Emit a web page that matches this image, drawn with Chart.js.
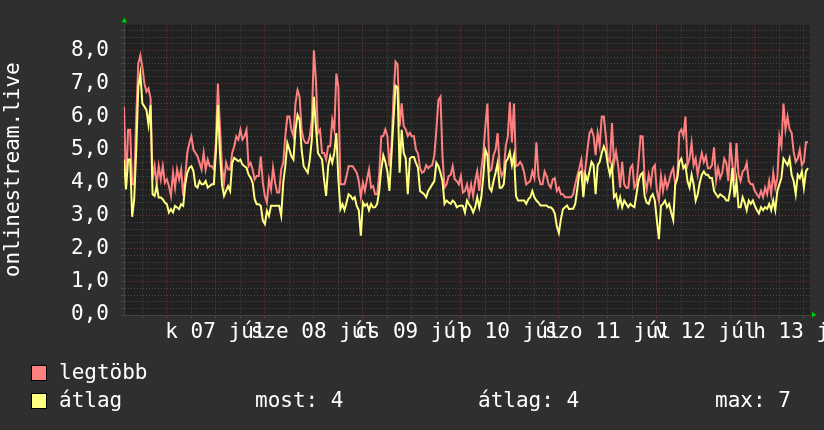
<!DOCTYPE html>
<html>
<head>
<meta charset="utf-8">
<script src="https://cdn.jsdelivr.net/npm/chart.js@4.4.1/dist/chart.umd.min.js"></script>
<style>
  html, body { margin: 0; padding: 0; background: #2f2f2f; }
  #wrap { width: 824px; height: 430px; }
</style>
</head>
<body>
<div id="wrap"><canvas id="rrd" width="824" height="430"></canvas></div>
<script>
// half-hourly samples, first one at Jul 6 13:30 (hour 0 of the graph)
const stepHours = 0.5;
const spanHours = 168;
const firstMidnight = 10.5;

const dayLabels = ['k 07 júl', 'sze 08 júl', 'cs 09 júl', 'p 10 júl', 'szo 11 júl', 'v 12 júl', 'h 13 júl'];
const yLabelValues = [0, 1, 2, 3, 4, 5, 6, 7, 8];

const legtobb = [
  6.3, 3.9, 5.6, 5.6, 3.95, 3.95, 6.0, 7.6, 7.85, 7.5,
  7.0, 6.75, 6.85, 6.55, 4.1, 4.5, 3.95, 4.5, 4.1, 4.5,
  4.0, 4.1, 3.9, 3.6, 4.3, 3.85, 4.4, 4.1, 4.4, 3.6,
  4.2, 4.9, 5.2, 5.4, 5.0, 4.9, 4.8, 4.6, 4.4, 4.9,
  4.4, 4.7, 4.5, 4.5, 4.4, 5.2, 7.0, 5.7, 4.5, 4.0,
  4.6, 4.4, 4.4, 4.9, 5.1, 5.4, 5.3, 5.6, 5.3, 5.4,
  5.6, 4.5, 4.6, 4.4, 4.1, 4.2, 4.2, 4.8, 4.0, 3.6,
  3.4, 4.1, 3.8, 4.45, 4.0, 3.7, 3.7, 4.4, 4.6, 5.4,
  6.0, 6.0, 5.6, 5.4,
  6.4, 6.8, 6.6, 5.6, 5.3, 5.2, 5.2, 5.4, 5.9, 8.0,
  7.1, 5.5, 5.6, 4.9, 4.9, 4.7, 5.1, 5.1, 5.9, 5.6,
  7.3, 6.9, 3.95, 3.95, 3.95, 4.2, 4.5, 4.5, 4.5, 4.4,
  4.3, 4.05, 3.56, 4.0, 3.75, 4.1, 4.4, 3.85, 3.9, 3.65,
  3.65, 4.24, 5.4, 5.41, 5.61, 5.41, 4.5, 5.1, 6.6, 7.66,
  7.57, 5.7, 6.4, 5.71, 5.61, 5.41, 5.51, 5.4, 5.41, 5.0,
  4.88, 4.44, 4.3, 4.34, 4.53, 4.44, 4.5, 4.53, 4.83, 5.6,
  6.5, 6.6, 4.8, 3.85, 3.95, 4.2, 4.24, 4.5, 4.1, 4.05,
  3.95, 4.2, 3.7,
  3.75, 3.95, 3.6, 3.95, 3.6, 4.05, 4.34, 3.75, 4.4, 4.9,
  5.71, 6.39, 4.34, 4.4, 4.83, 5.0, 5.5, 4.5, 4.2, 4.34,
  5.12, 5.4, 6.44, 5.22, 6.39, 4.5, 4.53, 4.63, 4.53, 4.3,
  3.95, 4.0, 4.05, 4.34, 4.14, 5.22, 4.2, 3.95, 3.95, 4.34,
  4.2, 3.95, 3.85, 4.1, 4.14, 3.75, 3.85, 3.65, 3.65, 3.56,
  3.56, 3.56, 3.56, 3.65, 3.95, 4.2, 4.44, 4.7, 4.05, 4.44,
  5.0, 5.5, 5.61, 5.41, 4.83, 5.5, 5.12, 6.0, 6.0, 5.4,
  4.73, 4.63, 5.8, 4.6, 4.93, 4.53, 3.85, 4.63, 3.95, 3.85,
  3.85, 4.44, 4.53, 3.85,
  3.95, 4.63, 5.41, 5.4, 4.1, 3.8, 4.24, 3.95, 4.44, 4.53,
  3.75, 3.46, 4.2, 3.75, 4.14, 3.85, 4.05, 4.3, 4.44, 3.95,
  4.14, 5.51, 5.61, 5.41, 6.0, 4.53, 4.73, 5.2, 4.53, 4.73,
  4.24, 4.6, 4.9, 4.63, 4.8, 4.44, 4.44, 4.53, 5.07, 4.05,
  4.44, 4.14, 4.3, 4.73, 4.6, 4.05, 5.22, 4.53, 4.05, 5.2,
  4.24, 4.05, 4.34, 4.4, 4.6, 4.05, 3.95, 3.95, 3.75, 3.65,
  3.56, 3.75, 3.56, 3.85, 3.65, 4.05, 3.65, 4.3, 3.85, 4.14,
  5.41, 5.12, 6.39, 5.61, 6.0, 5.61, 5.51, 4.93, 4.63, 4.73,
  5.0, 4.53, 4.63, 5.22, 5.22
];

const atlag = [
  4.7, 3.8, 4.7, 4.7, 2.97, 3.5, 5.0, 6.9, 7.3, 6.4,
  6.3, 6.2, 5.75, 6.35, 3.65, 3.6, 3.9, 3.55, 3.55, 3.5,
  3.4, 3.35, 3.1, 3.2, 3.1, 3.3, 3.25, 3.2, 3.35, 3.3,
  3.95, 4.3, 4.45, 4.5, 4.35, 3.9, 3.85, 4.05, 3.95, 3.95,
  4.05, 3.85, 3.9, 3.95, 3.95, 4.9, 6.35, 4.9, 3.95, 3.6,
  3.75, 3.9, 3.75, 4.6, 4.75, 4.7, 4.65, 4.7, 4.55, 4.5,
  4.45, 4.25, 4.15, 4.0, 3.5, 3.35, 3.35, 3.3, 2.85, 2.75,
  3.15, 3.0, 3.3, 3.3, 3.3, 3.3, 3.3, 3.0, 4.0, 4.5,
  5.2, 5.0, 4.8, 4.7,
  5.6, 6.05, 5.9, 5.0, 4.5, 4.4, 4.3, 4.7, 5.3, 6.6,
  5.7, 4.9, 4.8, 4.7, 4.1, 3.6, 4.5, 4.8, 4.6, 4.9,
  5.5, 4.1, 3.2, 3.35, 3.17, 3.4, 3.65, 3.6, 3.5, 3.56,
  3.3, 3.17, 2.4, 3.4, 3.3, 3.36, 3.17, 3.36, 3.25, 3.26,
  3.36, 3.75, 4.4, 4.83, 4.63, 4.34, 3.75, 4.83, 5.9, 6.93,
  6.88, 4.3, 5.6, 4.9, 4.73, 3.65, 4.73, 4.78, 4.78, 4.6,
  4.45, 3.75, 3.7, 3.65, 3.56, 3.75, 3.85, 3.95, 4.05, 4.6,
  4.5, 4.3, 4.05, 3.36, 3.46, 3.4, 3.36, 3.46, 3.4, 3.26,
  3.3, 3.31, 3.3,
  3.1, 3.46, 3.35, 3.26, 3.1, 3.26, 3.56, 3.26, 3.56, 4.2,
  5.0, 4.83, 3.85, 3.75, 4.05, 4.3, 4.6, 3.85, 3.85, 3.95,
  4.63, 4.73, 4.93, 4.53, 4.83, 3.6, 3.46, 3.46, 3.46, 3.46,
  3.36, 3.5, 3.56, 3.75, 3.56, 3.46, 3.4, 3.31, 3.31, 3.31,
  3.31, 3.26, 3.26, 3.2, 3.07, 2.68, 2.48, 2.9, 3.2, 3.26,
  3.31, 3.2, 3.21, 3.21, 3.36, 3.8, 4.3, 4.34, 3.56, 4.24,
  4.05, 4.34, 4.63, 4.53, 3.65, 4.53, 4.63, 4.9, 5.1, 4.93,
  4.53, 4.24, 4.53, 3.56, 3.65, 3.3, 3.56, 3.26, 3.46, 3.36,
  3.26, 3.36, 3.3, 3.26,
  3.65, 4.05, 4.24, 4.3, 3.6, 3.4, 3.36, 3.56, 3.65, 3.46,
  2.87, 2.29, 3.3, 3.36, 3.46, 3.26, 3.36, 3.1, 2.87, 3.95,
  4.14, 4.63, 4.73, 4.44, 4.53, 4.05, 3.85, 4.24, 3.95, 3.46,
  3.65, 4.0, 4.24, 4.34, 4.24, 4.24, 4.14, 4.14, 3.75, 3.65,
  3.56, 3.65, 3.6, 3.56, 3.46, 3.46, 3.8, 4.44, 3.56, 4.05,
  3.26, 3.26, 3.56, 3.4, 3.17, 3.46, 3.36, 3.46, 3.3, 3.17,
  3.07, 3.26, 3.17, 3.26, 3.21, 3.36, 3.17, 3.46, 3.17, 3.75,
  3.95, 4.14, 4.73, 4.63, 4.53, 4.73, 4.24, 4.05, 3.65, 4.24,
  4.14, 4.34, 3.85, 4.34, 4.44
];

const legendStats = { most: 4, atlag: 4, max: 7 };

const FONT = '"DejaVu Sans Mono", "Liberation Mono", monospace';
const TEXT = '#ffffff';
const RED = '#ff8080';
const YELLOW = '#ffff80';
const GRID_MINOR = '#4a4a4a';
const GRID_MAJOR = '#7a3434';

Chart.defaults.font.family = FONT;
Chart.defaults.font.size = 21;
Chart.defaults.color = TEXT;

// grid every 6 hours, day boundaries are the major lines
const xGridHours = [];
for (let h = firstMidnight - 6; h <= spanHours; h += 6) xGridHours.push(h);

function toPoints(values) {
  return values.map((v, i) => ({ x: i * stepHours, y: v }));
}

const rrdLook = {
  id: 'rrdLook',
  beforeDraw(chart) {
    const { ctx, chartArea: a } = chart;
    ctx.save();
    ctx.fillStyle = '#2f2f2f';
    ctx.fillRect(0, 0, chart.width, chart.height);
    ctx.fillStyle = '#212121';
    ctx.fillRect(a.left, a.top, a.right - a.left, a.bottom - a.top);
    ctx.restore();
  },
  afterDraw(chart) {
    const { ctx, chartArea: a } = chart;
    const xs = chart.scales.x;
    ctx.save();

    // axis arrows
    ctx.fillStyle = '#00cc00';
    ctx.beginPath();
    ctx.moveTo(a.left - 2.5, a.top - 2);
    ctx.lineTo(a.left + 3, a.top - 2);
    ctx.lineTo(a.left + 0.5, a.top - 7);
    ctx.closePath();
    ctx.fill();
    ctx.beginPath();
    ctx.moveTo(a.right + 2, a.bottom - 3);
    ctx.lineTo(a.right + 2, a.bottom + 2.5);
    ctx.lineTo(a.right + 6.5, a.bottom - 0.3);
    ctx.closePath();
    ctx.fill();

    // day labels, centred on midday
    ctx.font = '21px ' + FONT;
    ctx.fillStyle = TEXT;
    ctx.textAlign = 'center';
    ctx.textBaseline = 'alphabetic';
    dayLabels.forEach((lbl, i) => {
      ctx.fillText(lbl, xs.getPixelForValue(firstMidnight + 12 + 24 * i), 338);
    });

    // legend
    ctx.textAlign = 'left';
    const rows = [
      { color: RED, label: 'legtöbb', y: 365 },
      { color: YELLOW, label: 'átlag', y: 393 }
    ];
    rows.forEach(r => {
      ctx.fillStyle = '#000000';
      ctx.fillRect(31, r.y, 16, 16);
      ctx.fillStyle = r.color;
      ctx.fillRect(32, r.y + 1, 14, 14);
      ctx.fillStyle = TEXT;
      ctx.fillText(r.label, 59, r.y + 14);
    });
    ctx.fillText('most: ' + legendStats.most, 255, 407);
    ctx.fillText('átlag: ' + legendStats.atlag, 478, 407);
    ctx.fillText('max: ' + legendStats.max, 715, 407);
    ctx.restore();
  }
};

new Chart(document.getElementById('rrd'), {
  type: 'line',
  data: {
    datasets: [
      {
        label: 'átlag',
        data: toPoints(atlag),
        borderColor: YELLOW,
        borderWidth: 2,
        pointRadius: 0,
        tension: 0,
        order: 0
      },
      {
        label: 'legtöbb',
        data: toPoints(legtobb),
        borderColor: RED,
        borderWidth: 2,
        pointRadius: 0,
        tension: 0,
        order: 1
      }
    ]
  },
  options: {
    responsive: false,
    animation: false,
    devicePixelRatio: 1,
    layout: { padding: { top: 15, right: 14, bottom: 105, left: 0 } },
    plugins: {
      legend: { display: false },
      tooltip: { enabled: false }
    },
    scales: {
      x: {
        type: 'linear',
        min: 0,
        max: spanHours,
        afterBuildTicks: s => { s.ticks = xGridHours.map(v => ({ value: v })); },
        afterFit: s => { s.height = 10; },
        ticks: { display: false },
        grid: {
          color: c => ((c.tick.value - firstMidnight) % 24 === 0 ? GRID_MAJOR : GRID_MINOR),
          tickLength: 3
        },
        border: { display: true, color: '#444444', dash: [1, 2] }
      },
      y: {
        min: 0,
        max: 8.78,
        afterBuildTicks: s => {
          const t = [];
          for (let i = 0; i <= 43; i++) t.push({ value: i / 5 });
          s.ticks = t;
        },
        afterFit: s => { s.width = 124; },
        ticks: {
          autoSkip: false,
          padding: 12,
          color: TEXT,
          callback: v => (yLabelValues.includes(v) ? v.toFixed(1).replace('.', ',') : '')
        },
        grid: {
          color: c => (Number.isInteger(c.tick.value) ? GRID_MAJOR : GRID_MINOR),
          tickLength: 3
        },
        border: { display: true, color: '#444444', dash: [1, 2] },
        title: {
          display: true,
          text: 'onlinestream.live',
          color: TEXT,
          font: { size: 21 },
          padding: { top: 1, bottom: 0 }
        }
      }
    }
  },
  plugins: [rrdLook]
});
</script>
</body>
</html>
